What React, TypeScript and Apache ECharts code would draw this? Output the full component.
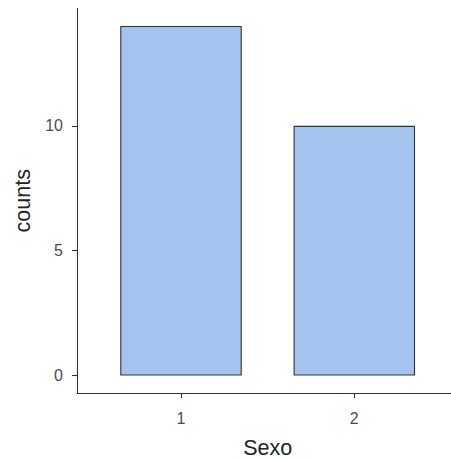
import React, { useEffect, useRef } from "react";
import * as echarts from "echarts";

const categories = [1, 2];
const counts = [14, 10];
const yTicks = [0, 5, 10];

export default function App() {
  const ref = useRef<HTMLDivElement>(null);
  useEffect(() => {
    document.body.style.margin = "0";
    const chart = echarts.init(ref.current!, null, { renderer: "svg" });
    const font = "'Liberation Sans', Arial, Helvetica, sans-serif";
    chart.setOption({
      animation: false,
      backgroundColor: "#ffffff",
      grid: { left: 77, right: 11.7, top: 8.5, bottom: 67, containLabel: false, outerBoundsMode: "none" },
      xAxis: {
        type: "value",
        min: 0.4,
        max: 2.6,
        name: "Sexo",
        nameLocation: "middle",
        nameGap: 44,
        nameTextStyle: { fontFamily: font, fontSize: 21.5, lineHeight: 22, color: "#222222" },
        splitLine: { show: false },
        axisLine: { show: true, onZero: false, lineStyle: { color: "#333333", width: 1.1 } },
        axisTick: { show: true, customValues: categories, length: 5, lineStyle: { color: "#333333", width: 1.1 } },
        axisLabel: {
          customValues: categories,
          margin: 17,
          fontFamily: font,
          fontSize: 16,
          color: "#4d4d4d",
          formatter: (v: number) => String(v),
        },
      },
      yAxis: {
        type: "value",
        min: -0.7,
        max: 14.7,
        name: "counts",
        nameLocation: "middle",
        nameGap: 41,
        nameRotate: 90,
        nameTextStyle: { fontFamily: font, fontSize: 21.5, color: "#222222" },
        splitLine: { show: false },
        axisLine: { show: true, onZero: false, lineStyle: { color: "#333333", width: 1.1 } },
        axisTick: { show: true, customValues: yTicks, length: 5, lineStyle: { color: "#333333", width: 1.1 } },
        axisLabel: {
          customValues: yTicks,
          margin: 14,
          fontFamily: font,
          fontSize: 16,
          color: "#4d4d4d",
        },
      },
      series: [
        {
          type: "bar",
          data: categories.map((c, i) => [c, counts[i]]),
          barWidth: 121.5,
          itemStyle: { color: "#a4c3ef", borderColor: "#333333", borderWidth: 1.1 },
        },
      ],
    });
    return () => chart.dispose();
  }, []);
  return (
    <div style={{ width: 451, height: 460, overflow: "hidden", position: "relative" }}>
      <div ref={ref} style={{ width: 470, height: 460 }} />
    </div>
  );
}
